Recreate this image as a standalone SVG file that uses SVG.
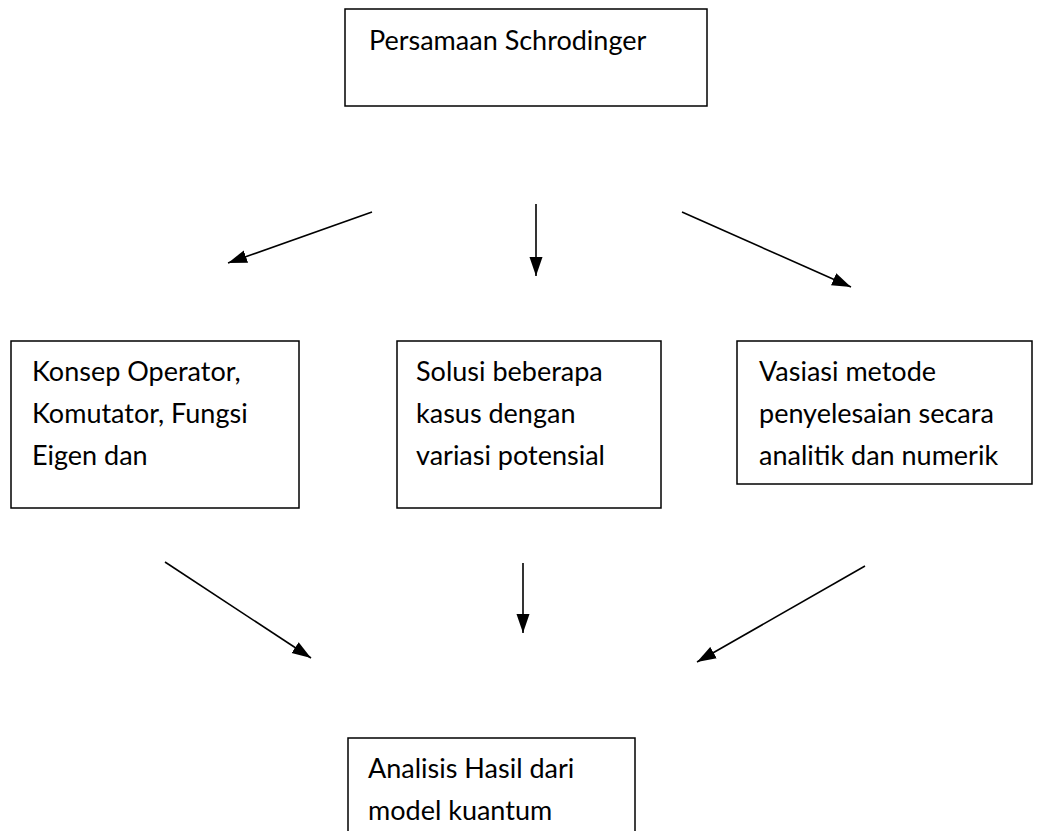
<svg xmlns="http://www.w3.org/2000/svg" width="1041" height="831" viewBox="0 0 1041 831">
<style>
.box{fill:#fff;stroke:#000;stroke-width:1.5}
.t{font-family:Lato,"Liberation Sans",sans-serif;font-size:27px;fill:#000}
.c{stroke:#000;stroke-width:1.6;fill:none;marker-end:url(#ah)}
</style>
<defs>
<marker id="ah" markerUnits="userSpaceOnUse" markerWidth="20" markerHeight="14" viewBox="0 0 20 14" refX="19" refY="7" orient="auto">
<path d="M0,0.5 L19,7 L0,13.5 z" fill="#000"/>
</marker>
</defs>
<rect width="1041" height="831" fill="#fff"/>
<g id="n-top">
<rect class="box" x="345" y="9" width="362" height="97"/>
<text class="t" x="369" y="50">Persamaan Schrodinger</text>
</g>
<g id="n-konsep">
<rect class="box" x="11" y="341" width="288" height="167"/>
<text class="t" x="32" y="381">Konsep Operator,</text>
<text class="t" x="32" y="423">Komutator, Fungsi</text>
<text class="t" x="32" y="465">Eigen dan</text>
</g>
<g id="n-solusi">
<rect class="box" x="397" y="341" width="264" height="167"/>
<text class="t" x="416" y="381">Solusi beberapa</text>
<text class="t" x="416" y="423">kasus dengan</text>
<text class="t" x="416" y="465">variasi potensial</text>
</g>
<g id="n-vasiasi">
<rect class="box" x="737" y="341" width="295" height="143"/>
<text class="t" x="759" y="381">Vasiasi metode</text>
<text class="t" x="759" y="423">penyelesaian secara</text>
<text class="t" x="759" y="465">analitik dan numerik</text>
</g>
<g id="n-analisis">
<rect class="box" x="348" y="738" width="287" height="110"/>
<text class="t" x="368" y="778">Analisis Hasil dari</text>
<text class="t" x="368" y="820">model kuantum</text>
</g>
<g id="connectors">
<line class="c" x1="372" y1="212" x2="228" y2="263"/>
<line class="c" x1="536" y1="204" x2="536" y2="276"/>
<line class="c" x1="682" y1="212" x2="851" y2="287"/>
<line class="c" x1="165" y1="562" x2="311" y2="658"/>
<line class="c" x1="523" y1="563" x2="523" y2="633"/>
<line class="c" x1="865" y1="566" x2="697" y2="662"/>
</g>
</svg>
